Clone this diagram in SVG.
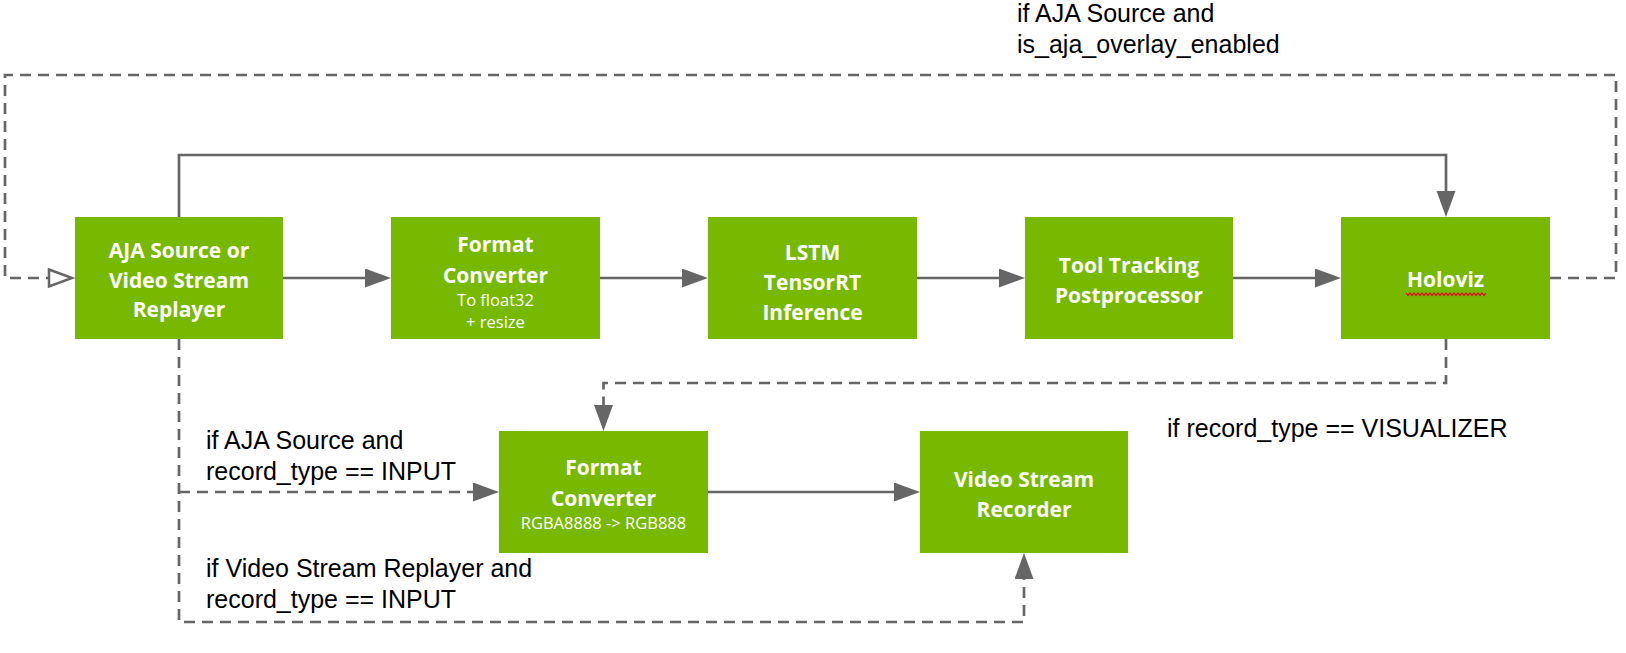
<svg xmlns="http://www.w3.org/2000/svg" width="1626" height="653" viewBox="0 0 1626 653">
<style>
.node{fill:#76b900}
.nt{font-family:"Open Sans","Noto Sans","Liberation Sans",sans-serif;font-weight:700;font-size:21px;fill:#fff;text-anchor:middle}
.ns{font-family:"Open Sans","Noto Sans","Liberation Sans",sans-serif;font-weight:400;font-size:16.5px;fill:#fff;text-anchor:middle}
.lbl{font-family:"Liberation Sans",Arial,sans-serif;font-size:25px;fill:#000}
.c{fill:none;stroke:#666;stroke-width:2.7}
.d{stroke-dasharray:11 7}
</style>
<defs>
<marker id="arr" markerUnits="userSpaceOnUse" markerWidth="27" markerHeight="20" refX="0" refY="9.5" orient="auto">
<path d="M0,0 L26,9.5 L0,19 Z" fill="#666" stroke="none"/>
</marker>
<marker id="harr" markerUnits="userSpaceOnUse" markerWidth="30" markerHeight="24" refX="2" refY="10.5" orient="auto">
<path d="M2,2 L25,10.5 L2,19 Z" fill="#fff" stroke="#666" stroke-width="2.5" stroke-dasharray="none"/>
</marker>
</defs>
<rect width="1626" height="653" fill="#fff"/>
<g id="connectors">
<path class="c" d="M283,278 H365" marker-end="url(#arr)"/>
<path class="c" d="M600,278 H682" marker-end="url(#arr)"/>
<path class="c" d="M917,278 H999" marker-end="url(#arr)"/>
<path class="c" d="M1233,278 H1315" marker-end="url(#arr)"/>
<path class="c" d="M179,217 V155 H1446 V191" marker-end="url(#arr)"/>
<path class="c d" d="M1550,278 H1616 V75 H5 V278 H49" marker-end="url(#harr)"/>
<path class="c d" d="M1446,339 V383 H603.5 V405" marker-end="url(#arr)"/>
<path class="c d" d="M179,339 V622 H1024 V579" marker-end="url(#arr)"/>
<path class="c d" d="M179,492 H473" marker-end="url(#arr)"/>
<path class="c" d="M708,492 H894" marker-end="url(#arr)"/>
</g>
<g id="aja">
<rect class="node" x="75" y="217" width="208" height="122"/>
<text class="nt" x="179" y="258">AJA Source or</text>
<text class="nt" x="179" y="288">Video Stream</text>
<text class="nt" x="179" y="317">Replayer</text>
</g>
<g id="fc1">
<rect class="node" x="391" y="217" width="209" height="122"/>
<text class="nt" x="495.5" y="252">Format</text>
<text class="nt" x="495.5" y="283">Converter</text>
<text class="ns" x="495.5" y="306">To float32</text>
<text class="ns" x="495.5" y="328">+ resize</text>
</g>
<g id="lstm">
<rect class="node" x="708" y="217" width="209" height="122"/>
<text class="nt" x="812.5" y="260">LSTM</text>
<text class="nt" x="812.5" y="290">TensorRT</text>
<text class="nt" x="812.5" y="320">Inference</text>
</g>
<g id="tool">
<rect class="node" x="1025" y="217" width="208" height="122"/>
<text class="nt" x="1129" y="273">Tool Tracking</text>
<text class="nt" x="1129" y="303">Postprocessor</text>
</g>
<g id="holoviz">
<rect class="node" x="1341" y="217" width="209" height="122"/>
<text class="nt" x="1445.5" y="287">Holoviz</text>
<path d="M1406,293 l2,2.5 l2,-2.5 l2,2.5 l2,-2.5 l2,2.5 l2,-2.5 l2,2.5 l2,-2.5 l2,2.5 l2,-2.5 l2,2.5 l2,-2.5 l2,2.5 l2,-2.5 l2,2.5 l2,-2.5 l2,2.5 l2,-2.5 l2,2.5 l2,-2.5 l2,2.5 l2,-2.5 l2,2.5 l2,-2.5 l2,2.5 l2,-2.5 l2,2.5 l2,-2.5 l2,2.5 l2,-2.5 l2,2.5 l2,-2.5 l2,2.5 l2,-2.5 l2,2.5 l2,-2.5 l2,2.5 l2,-2.5 l2,2.5 l2,-2.5" fill="none" stroke="#e00000" stroke-width="1.2"/>
</g>
<g id="fc2">
<rect class="node" x="499" y="431" width="209" height="122"/>
<text class="nt" x="603.5" y="475">Format</text>
<text class="nt" x="603.5" y="506">Converter</text>
<text class="ns" x="603.5" y="529">RGBA8888 -&gt; RGB888</text>
</g>
<g id="recorder">
<rect class="node" x="920" y="431" width="208" height="122"/>
<text class="nt" x="1024" y="487">Video Stream</text>
<text class="nt" x="1024" y="517">Recorder</text>
</g>
<g id="labels">
<text class="lbl" x="1017" y="22">if AJA Source and</text>
<text class="lbl" x="1017" y="53">is_aja_overlay_enabled</text>
<text class="lbl" x="206" y="449">if AJA Source and</text>
<text class="lbl" x="206" y="480">record_type == INPUT</text>
<text class="lbl" x="206" y="577">if Video Stream Replayer and</text>
<text class="lbl" x="206" y="608">record_type == INPUT</text>
<text class="lbl" x="1167" y="437">if record_type == VISUALIZER</text>
</g>
</svg>
